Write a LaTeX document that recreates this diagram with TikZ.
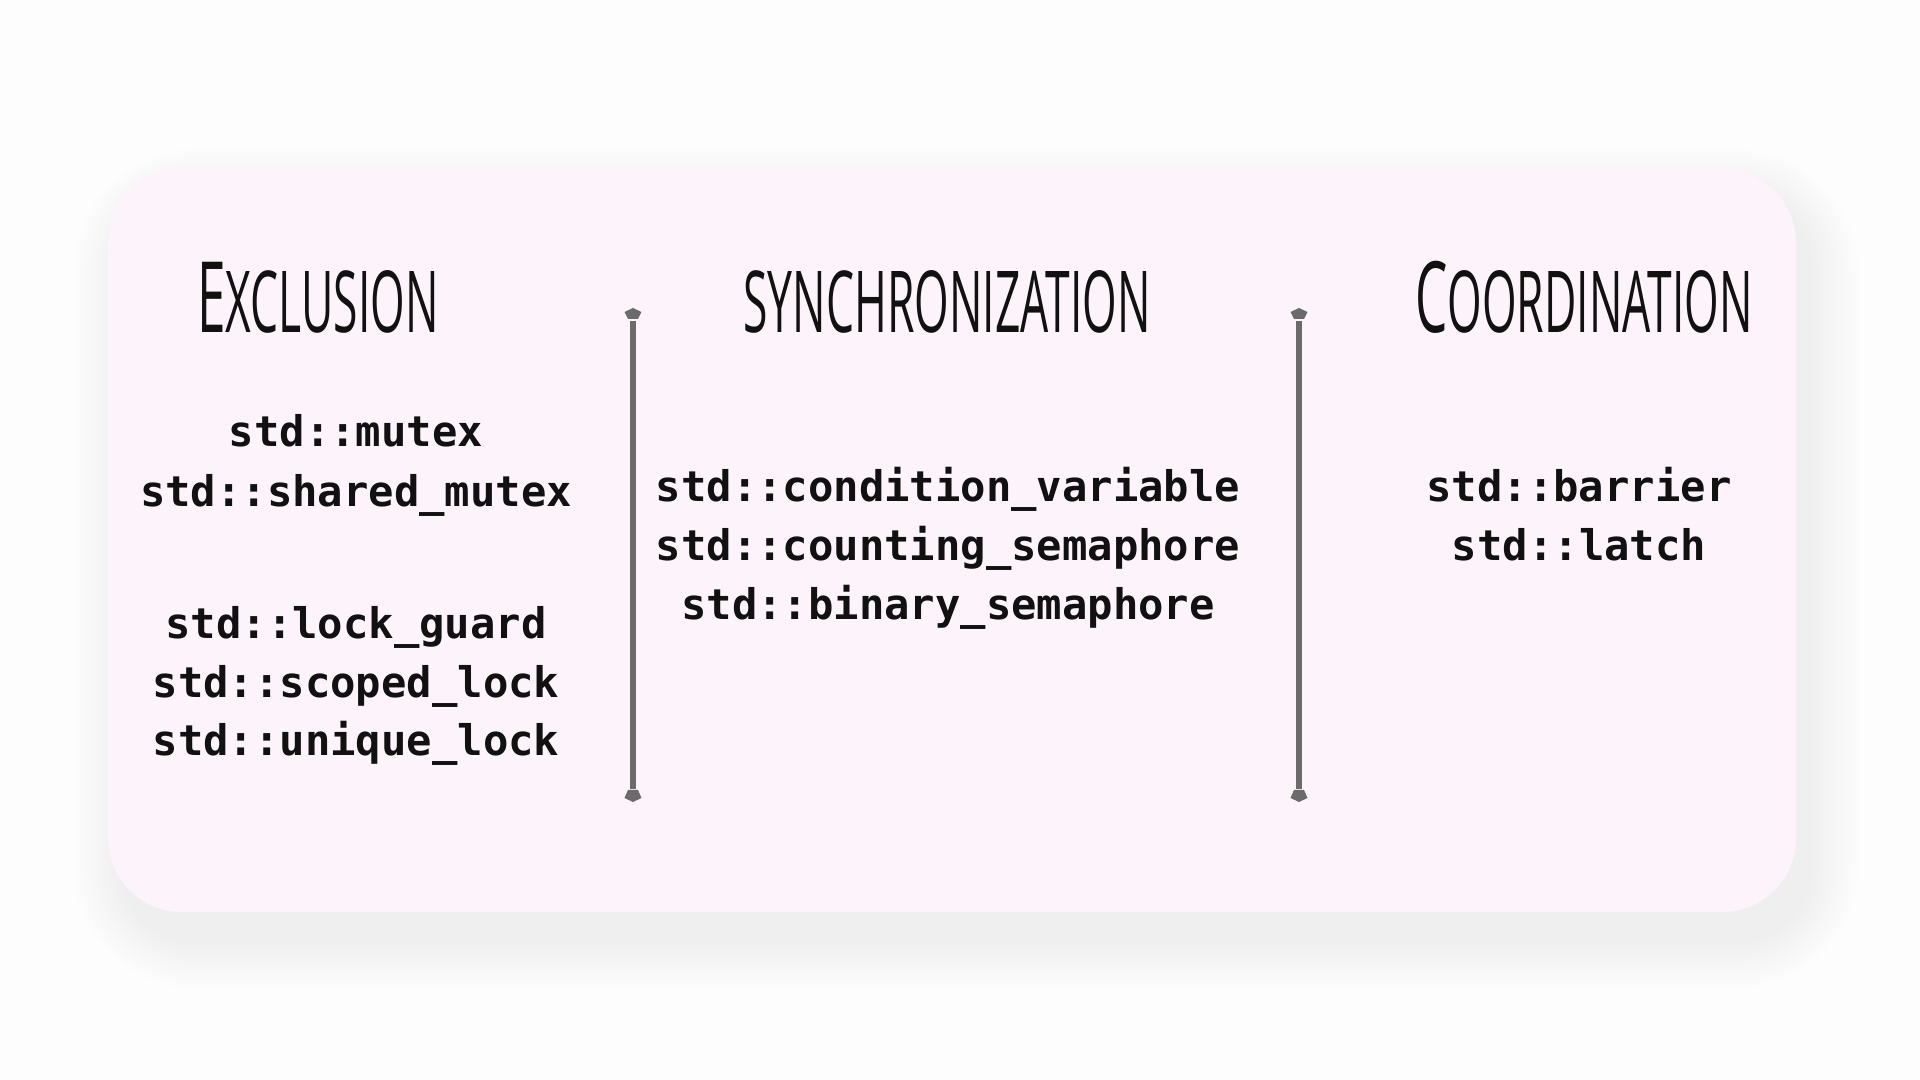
\documentclass[tikz,border=0pt]{standalone}
\usepackage{fontspec}
\newfontfamily\headfont[FakeStretch=0.52]{Open Sans}
\newfontfamily\codefont{DejaVu Sans Mono}
\newcommand\hbig{\fontsize{28}{30}\selectfont}
\newcommand\hsmall{\fontsize{24.3}{26}\selectfont}
\definecolor{pagebg}{HTML}{FDFDFD}
\definecolor{boxbg}{HTML}{FDF3FA}
\definecolor{divgray}{HTML}{6B6B6B}
\definecolor{ink}{HTML}{111111}
\tikzset{
  head/.style={font=\headfont, text=ink, inner sep=0pt, anchor=base},
  code/.style={font=\codefont\bfseries\fontsize{12}{14}\selectfont, text=ink, inner sep=0pt, anchor=base},
  divider/.style={draw=divgray, line width=6*0.2845pt},
  tipup/.pic={\fill[divgray] (-8.5,4) -- (0,0) -- (8.5,4) -- (5,11) -- (-5,11) -- cycle;},
  tipdown/.pic={\fill[divgray] (-8.5,-4) -- (0,0) -- (8.5,-4) -- (5,-12) -- (-5,-12) -- cycle;}
}
\begin{document}
\begin{tikzpicture}[x=0.01cm,y=-0.01cm]
\useasboundingbox (0,0) rectangle (1920,1080);
\fill[pagebg] (0,0) rectangle (1920,1080);
% soft shadow
\foreach \i in {1,...,14}{
  \fill[black, opacity=0.003, rounded corners=21pt+\i*1pt]
    (108+14-3.5*\i,169+28-3.5*\i) rectangle (1796+14+3.5*\i,912+28+3.5*\i);
}
% panel
\fill[boxbg, rounded corners=21pt] (108,169) rectangle (1796,912);

% headings
\node[head] (hexcl) at (318,333) {\hbig E\hsmall XCLUSION};
\node[head] (hsync) at (947,333) {\hsmall SYNCHRONIZATION};
\node[head] (hcoord) at (1584,333) {\hbig C\hsmall OORDINATION};

% dividers
\coordinate (d1t) at (633,308);
\coordinate (d1b) at (633,802);
\coordinate (d2t) at (1299,308);
\coordinate (d2b) at (1299,802);
\draw[divider] ([yshift=-13*0.01cm]d1t) -- ([yshift=13*0.01cm]d1b);
\draw[divider] ([yshift=-13*0.01cm]d2t) -- ([yshift=13*0.01cm]d2b);
\pic at (d1t) {tipup};
\pic at (d1b) {tipdown};
\pic at (d2t) {tipup};
\pic at (d2b) {tipdown};

% exclusion column
\node[code] (c1) at (356,447) {std::mutex};
\node[code] (c2) at (356,507) {std::shared\_mutex};
\node[code] (c3) at (356,639) {std::lock\_guard};
\node[code] (c4) at (356,698) {std::scoped\_lock};
\node[code] (c5) at (356,756) {std::unique\_lock};

% synchronization column
\node[code] (s1) at (948,502) {std::condition\_variable};
\node[code] (s2) at (948,561) {std::counting\_semaphore};
\node[code] (s3) at (948,620) {std::binary\_semaphore};

% coordination column
\node[code] (k1) at (1579,502) {std::barrier};
\node[code] (k2) at (1579,561) {std::latch};
\end{tikzpicture}
\end{document}
